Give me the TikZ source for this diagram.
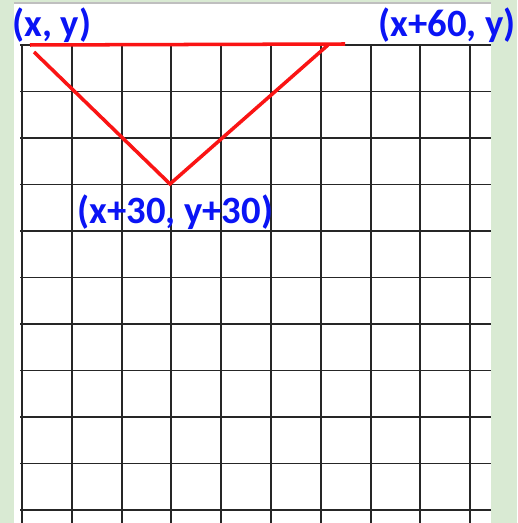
\documentclass[tikz,border=0pt]{standalone}
\usepackage{fontspec}
\setmainfont{Carlito}
\usetikzlibrary{positioning}
\definecolor{sheetgreen}{RGB}{217,234,211}
\definecolor{markred}{RGB}{250,20,20}
\definecolor{labelblue}{RGB}{10,20,245}

\begin{document}
\begin{tikzpicture}[
    x=0.02cm, y=-0.02cm,
    gridline/.style={draw=black!85, line width=1.1pt},
    redline/.style={draw=markred, line width=2pt},
    coordlabel/.style={text=labelblue, font=\fontsize{22}{26}\selectfont\bfseries, inner sep=0pt, anchor=base west}
]
% sheet and background
\fill[sheetgreen] (0,0) rectangle (517,523);
\useasboundingbox (0,0) rectangle (517,523);
\fill[white] (14,2) rectangle (491,523);
\draw[black!25, line width=0.6pt] (14,3) -- (491,3);

% grid
\foreach \i in {0,...,9}
    \draw[gridline] ({22+49.8*\i},45) -- ({22+49.8*\i},523);
\foreach \j in {0,...,10}
    \draw[gridline] (20,{45+46.5*\j}) -- (491,{45+46.5*\j});

% corner points
\coordinate (topleft) at (30,45);
\coordinate (topright) at (345,44);
\coordinate (vstart) at (34,52);
\coordinate (vtip) at (170,184);
\coordinate (vend) at (328,45);

\draw[redline] (topleft) -- (topright);
\draw[redline, line join=miter] (vstart) -- (vtip) -- (vend);

% labels
\node[coordlabel] (lblxy) at (12,37) {(x, y)};
\node[coordlabel] (lblright) at (378,37) {(x+60, y)};
\node[coordlabel] (lbltip) at (77,224) {(x+30, y+30)};
\end{tikzpicture}
\end{document}
